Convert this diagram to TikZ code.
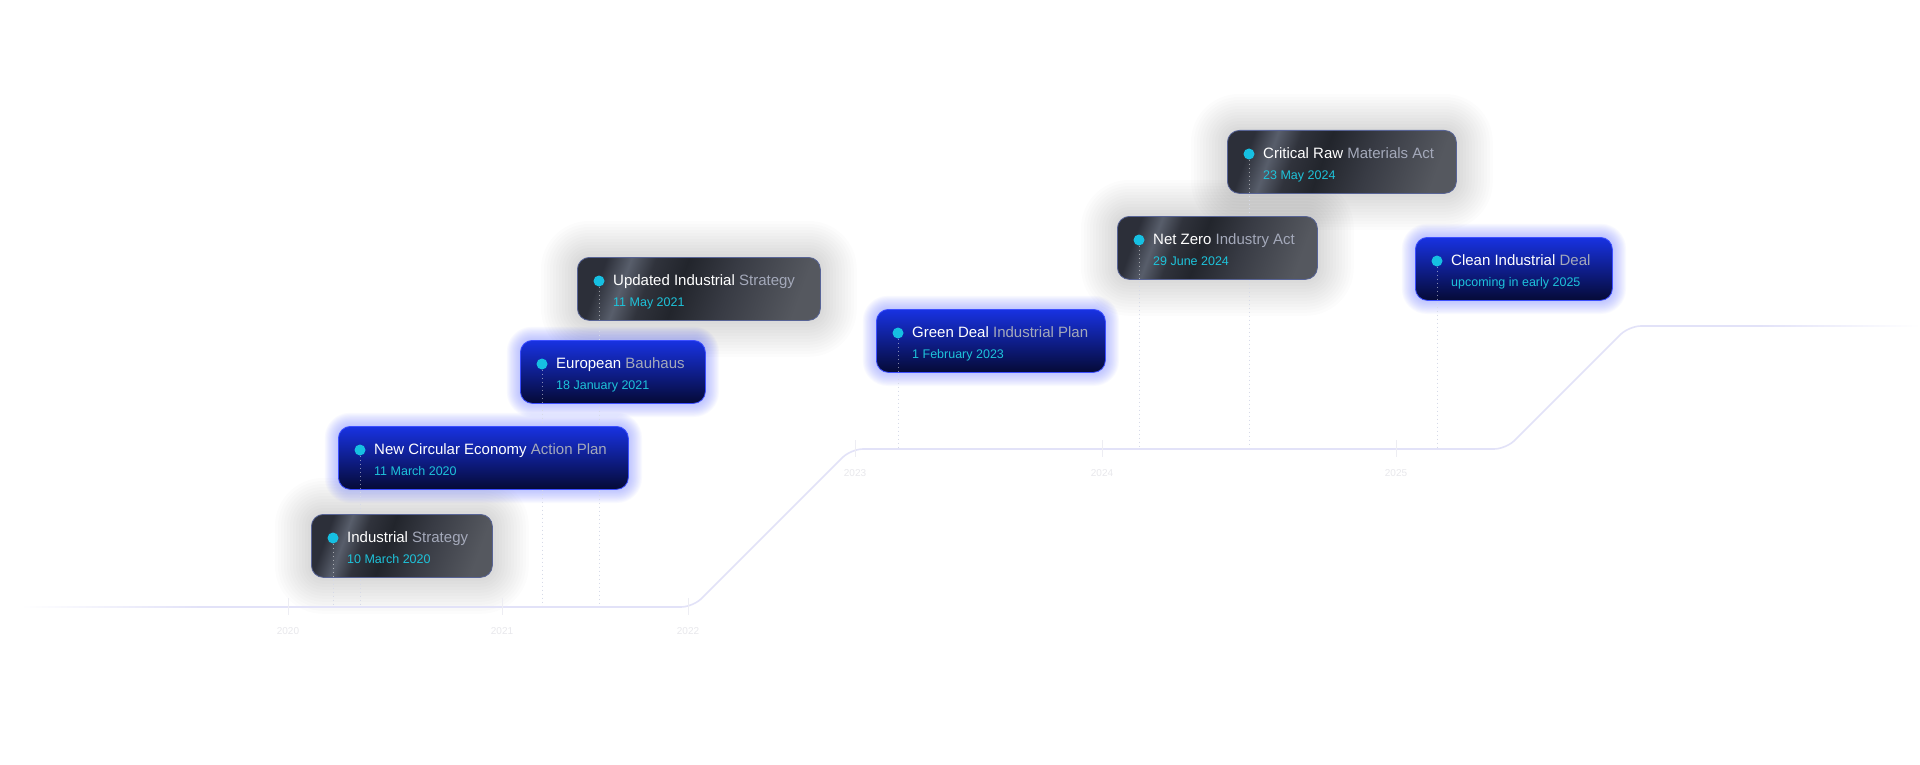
\documentclass[tikz,border=0pt]{standalone}
\usepackage{fontspec}
\setmainfont{Liberation Sans}
\usetikzlibrary{positioning}
\usepackage{xcolor}
\def\cardh{63}
\def\spreadgray{3}
\def\spreadblue{1.1}

\definecolor{linecol}{HTML}{E2E2F8}
\definecolor{tickcol}{HTML}{EDEDF3}
\definecolor{yearcol}{HTML}{E8E8EC}
\definecolor{dotcol}{HTML}{16C0E2}
\definecolor{datecol}{HTML}{1EC3DA}
\definecolor{titlegray}{HTML}{A4A9BA}
\definecolor{stemcol}{HTML}{D6DAE8}
\definecolor{glowcol}{HTML}{8E99FF}
\definecolor{gA}{HTML}{2C2F39}
\definecolor{gB}{HTML}{585E6B}
\definecolor{gC}{HTML}{30333C}
\definecolor{gD}{HTML}{22252C}
\definecolor{gE}{HTML}{383B44}
\definecolor{gF}{HTML}{55585F}
\definecolor{bTop}{HTML}{1832E2}
\definecolor{bMid}{HTML}{0C1A8C}
\definecolor{bBot}{HTML}{050A36}
\pgfdeclarehorizontalshading{metal}{100bp}{color(0bp)=(gA); color(25bp)=(gA); color(31bp)=(gB);
  color(37bp)=(gC); color(45bp)=(gD); color(57bp)=(gE); color(75bp)=(gF); color(100bp)=(gF)}
\pgfdeclarelayer{paper}
\pgfdeclarelayer{halo}
\pgfdeclarelayer{behind}
\pgfsetlayers{paper,halo,behind,main}

\begin{document}
\begin{tikzpicture}[x=1pt,y=-1pt]
    \tikzstyle{timeline}=[draw=linecol, line width=1.6pt, rounded corners=12pt]
    \tikzstyle{tick}=[draw=tickcol, line width=0.8pt]
    \tikzstyle{year}=[text=yearcol, font=\fontsize{10}{12}\selectfont, inner sep=0pt]
    \tikzstyle{card}=[rectangle, rounded corners=12pt, anchor=north west, minimum height=\cardh pt, inner sep=0pt, line width=0.8pt]
    \tikzstyle{card-gray}=[card, shade, shading=metal, shading angle=-20, draw={rgb,255:red,88;green,100;blue,150}]
    \tikzstyle{card-blue}=[card, top color=bTop, middle color=bMid, bottom color=bBot, draw={rgb,255:red,60;green,78;blue,255}]
    \tikzstyle{halo-gray}=[fill=black, opacity=0.012, yshift=-12pt]
    \tikzstyle{halo-blue}=[fill=glowcol, opacity=0.055, yshift=-1pt]
    \tikzstyle{dot}=[circle, fill=dotcol, minimum size=11pt, inner sep=0pt]
    \tikzstyle{stem}=[draw=stemcol, line width=1pt, dash pattern=on 1pt off 3pt]
    \tikzstyle{inner stem}=[draw=white, opacity=0.5, line width=1pt, dash pattern=on 1pt off 3pt]
    \tikzstyle{title}=[anchor=base west, inner sep=0pt, font=\fontsize{15}{18}\selectfont]
    \tikzstyle{date}=[anchor=base west, inner sep=0pt, text=datecol, font=\fontsize{12.5}{15}\selectfont]

    \useasboundingbox (0,0) rectangle (1920,765);
    \begin{pgfonlayer}{paper}
        \fill[white] (0,0) rectangle (1920,765);
    \end{pgfonlayer}

    % Draw the timeline
    \coordinate (L0) at (200,607);
    \coordinate (L1) at (693,607);
    \coordinate (L2) at (851,449);
    \coordinate (L3) at (1506,449);
    \coordinate (L4) at (1629,326);
    \coordinate (L5) at (1760,326);
    \shade[left color=white, right color=linecol] (20,606.2) rectangle (L0 |- 0,607.8);
    \draw[timeline] (L0) -- (L1) -- (L2) -- (L3) -- (L4) -- (L5);
    \shade[left color=linecol, right color=white] (L5 |- 0,325.2) rectangle (1920,326.8);

    % Year ticks and labels
    \foreach \yr / \x / \y in {2020/288/607, 2021/502/607, 2022/688/607,
                                2023/855/449, 2024/1102/449, 2025/1396/449}
    {
        \draw[tick] (\x,\y-9) -- (\x,\y+8);
        \node[year] (Y-\yr) at (\x,\y+24) {\yr};
    }

    % Draw the cards
    % name / left / top / width / kind / bright title / faded title / date / timeline y
    \foreach \name / \x / \y / \w / \kind / \ta / \tb / \d / \ty in {
        1/311/514/181/gray/Industrial/Strategy/10 March 2020/607,
        2/338/426/290/blue/New Circular Economy/Action Plan/11 March 2020/607,
        3/520/340/185/blue/European/Bauhaus/18 January 2021/607,
        4/577/257/243/gray/Updated Industrial/Strategy/11 May 2021/607,
        5/876/309/229/blue/Green Deal/Industrial Plan/1 February 2023/449,
        6/1117/216/200/gray/Net Zero/Industry Act/29 June 2024/449,
        7/1227/130/229/gray/Critical Raw/Materials Act/23 May 2024/449,
        8/1415/237/197/blue/Clean Industrial/Deal/upcoming in early 2025/449}
    {
        \node[card-\kind, minimum width=\w pt] (C-\name) at (\x,\y) {};
        \begin{pgfonlayer}{halo}
            \pgfmathsetmacro{\sp}{\csname spread\kind\endcsname}
            \foreach \s in {1,...,12}
                \fill[halo-\kind, rounded corners={(12+\sp*\s)*1pt}]
                    ([shift={(-\sp*\s,-\sp*\s)}]C-\name.north west) rectangle ([shift={(\sp*\s,\sp*\s)}]C-\name.south east);
        \end{pgfonlayer}
        \node[dot] (D-\name) at ([shift={(22,24)}]C-\name.north west) {};
        \coordinate (B-\name) at (D-\name |- 0,\ty);
        \begin{pgfonlayer}{behind}
            \draw[stem] (D-\name) -- (B-\name);
        \end{pgfonlayer}
        \draw[inner stem] (D-\name.south) -- (D-\name |- C-\name.south);
        \node[title] (N-\name) at ([shift={(36,28)}]C-\name.north west)
            {\textcolor{white}{\ta} \textcolor{titlegray}{\tb}};
        \node[date] (W-\name) at ([shift={(36,49)}]C-\name.north west) {\d};
    }
\end{tikzpicture}
\end{document}
